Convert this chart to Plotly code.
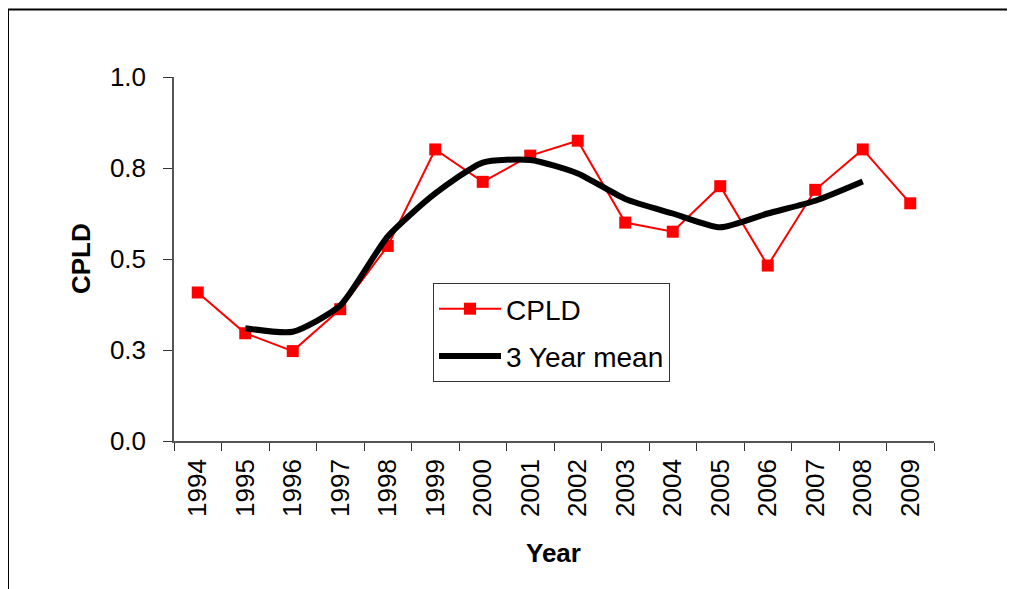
import plotly.graph_objects as go

years = [str(y) for y in range(1994, 2010)]
cpld = [0.408, 0.296, 0.247, 0.362, 0.536, 0.801, 0.712, 0.784,
        0.825, 0.600, 0.575, 0.700, 0.482, 0.690, 0.801, 0.653]
mean_years = [str(y) for y in range(1995, 2009)]
mean3 = [0.310, 0.300, 0.372, 0.562, 0.680, 0.765, 0.772, 0.735,
         0.665, 0.625, 0.587, 0.625, 0.660, 0.713]
ytick_vals = [0.0, 0.25, 0.5, 0.75, 1.0]
ytick_text = ["0.0", "0.3", "0.5", "0.8", "1.0"]

FONT = "Arial, Liberation Sans, sans-serif"
OFF = 8  # page body margin
W, H = 1015 - OFF, 589 - OFF
L, R, T, B = 174 - OFF, 81, 77 - OFF, 148
pw, ph = W - L - R, H - T - B


def px(x):
    return (x - OFF - L) / pw


def py(y):
    return (T + ph - (y - OFF)) / ph


fig = go.Figure()
fig.add_trace(go.Scatter(
    x=years, y=cpld, name="CPLD", mode="lines+markers",
    line=dict(color="#ff0000", width=2),
    marker=dict(symbol="square", size=12, color="#ff0000"),
    legendgroup="a",
))
fig.add_trace(go.Scatter(
    x=mean_years, y=mean3, name="3 Year mean", mode="lines",
    line=dict(color="#000000", width=6, shape="spline", smoothing=0.6),
    legendgroup="b",
))

fig.update_layout(
    width=W, height=H,
    margin=dict(l=L, r=R, t=T, b=B),
    paper_bgcolor="white", plot_bgcolor="white",
    font=dict(family=FONT, size=26, color="black"),
    showlegend=True,
    legend=dict(
        x=px(433), y=py(283), xanchor="left", yanchor="top",
        bordercolor="#333333", borderwidth=1, bgcolor="white",
        font=dict(size=28), itemwidth=62, tracegroupgap=8,
    ),
    xaxis=dict(
        type="category", categoryorder="array", categoryarray=years,
        range=[-0.5, 15.5], showgrid=False, zeroline=False,
        showline=True, linecolor="#555555", linewidth=1.5,
        ticks="outside", tickson="boundaries", ticklen=8, tickcolor="#333333",
        tickangle=-90, tickfont=dict(size=26), ticklabelstandoff=6,
    ),
    yaxis=dict(
        range=[0, 1], showgrid=False, zeroline=False,
        showline=True, linecolor="#555555", linewidth=1.5,
        ticks="outside", ticklen=9, tickcolor="#333333",
        tickvals=ytick_vals, ticktext=ytick_text,
        tickfont=dict(size=26), ticklabelstandoff=12,
    ),
    annotations=[
        dict(text="<b>Year</b>", x=px(553.5), y=py(553), xref="paper", yref="paper",
             showarrow=False, font=dict(size=26), xanchor="center", yanchor="middle"),
        dict(text="<b>CPLD</b>", x=px(81), y=py(259), xref="paper", yref="paper",
             showarrow=False, font=dict(size=26), textangle=-90,
             xanchor="center", yanchor="middle"),
    ],
    shapes=[
        dict(type="rect", xref="paper", yref="paper",
             x0=px(8), x1=px(1040), y0=py(610), y1=py(9.5),
             line=dict(color="black", width=2), layer="below"),
    ],
)

fig.write_html("out.html")
